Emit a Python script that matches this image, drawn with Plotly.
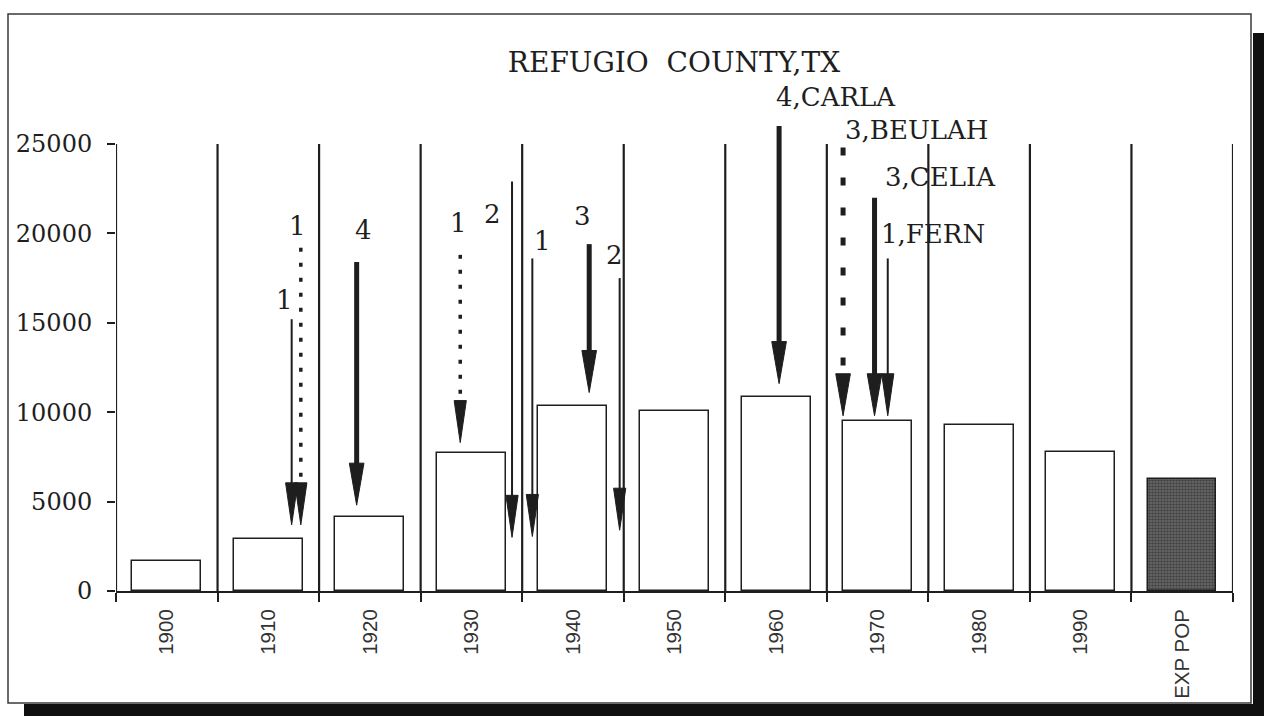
import plotly.graph_objects as go

# ---------------- data ----------------
categories = ["1900", "1910", "1920", "1930", "1940", "1950",
              "1960", "1970", "1980", "1990", "EXP POP"]
population = [1680, 2900, 4120, 7700, 10350, 10050, 10850, 9500, 9300, 7800, 6250]

# hurricane arrows (x in years on the decade axis, y in persons)
arrow_x = [1912.3, 1913.2, 1918.7, 1928.9, 1934.0, 1936.0, 1941.6, 1944.6,
           1960.3, 1966.6, 1969.7, 1971.0]
arrow_top = [15200, 19200, 18400, 18800, 22900, 18600, 19400, 17500,
             26000, 24800, 22000, 18600]
arrow_tip = [3700, 3700, 4800, 8300, 3000, 3050, 11100, 3400,
             11600, 9800, 9800, 9800]
arrow_style = ["thin", "dot", "thick", "dot", "thin", "thin", "thick", "thin",
               "thick", "dash", "thick", "thin"]

label_text = ["1", "1", "4", "1", "2", "1", "3", "2",
              "4,CARLA", "3,BEULAH", "3,CELIA", "1,FERN"]
label_x = [1911.6, 1912.9, 1919.4, 1928.7, 1932.1, 1937.0, 1940.9, 1944.1,
           1965.9, 1973.9, 1976.2, 1975.5]
label_y = [16300, 20400, 20200, 20600, 21100, 19600, 21000, 18800,
           27650, 25800, 23170, 19970]

y_ticks = [0, 5000, 10000, 15000, 20000, 25000]
y_tick_text = ["0", "5000", "10000", "15000", "20000", "25000"]
title_text = "REFUGIO  COUNTY,TX"

# ---------------- geometry / style ----------------
W, H = 1264, 716
ML, MR, MT, MB = 116, 31, 20, 125
PW, PH = W - ML - MR, H - MT - MB
Y_TOP = 25000
Y_MAX = Y_TOP * PH / 447.0

positions = [1900 + 10 * i for i in range(len(categories))]
dividers = [1895 + 10 * i for i in range(len(categories) + 1)]

INK = "#1e1e1e"
SERIF = "DejaVu Serif, Liberation Serif, serif"
SANS = "Liberation Sans, Arial, sans-serif"

line_styles = {
    "thin": dict(width=2, dash="solid"),
    "thick": dict(width=5, dash="solid"),
    "dot": dict(width=3.5, dash="4px,11px"),
    "dash": dict(width=5, dash="8px,22px"),
}
head_half = {"thin": 0.6, "thick": 0.72, "dot": 0.6, "dash": 0.72}
HEAD_LEN = 2350

fig = go.Figure()

# dividers + y-axis line (0 .. 25000)
dx, dy = [], []
for d in dividers:
    dx += [d, d, None]
    dy += [0, Y_TOP, None]
fig.add_trace(go.Scatter(x=dx, y=dy, mode="lines",
                         line=dict(color=INK, width=2.2),
                         hoverinfo="skip", showlegend=False))

# population bars
fig.add_trace(go.Bar(x=positions[:-1], y=population[:-1], width=6.8,
                     marker=dict(color="white", line=dict(color=INK, width=1.5)),
                     showlegend=False))
fig.add_trace(go.Bar(x=positions[-1:], y=population[-1:], width=6.7,
                     marker=dict(color="#505050",
                                 line=dict(color=INK, width=1.5),
                                 pattern=dict(shape=".", fgcolor="#1c1c1c",
                                              bgcolor="#6c6c6c", size=3,
                                              solidity=0.55)),
                     showlegend=False))

# arrows
for x, top, tip, st in zip(arrow_x, arrow_top, arrow_tip, arrow_style):
    fig.add_trace(go.Scatter(x=[x, x], y=[top, tip + HEAD_LEN - 200], mode="lines",
                             line=dict(color=INK, **line_styles[st]),
                             hoverinfo="skip", showlegend=False))
    hw = head_half[st]
    fig.add_trace(go.Scatter(x=[x - hw, x + hw, x, x - hw],
                             y=[tip + HEAD_LEN, tip + HEAD_LEN, tip, tip + HEAD_LEN],
                             mode="lines", fill="toself", fillcolor=INK,
                             line=dict(color=INK, width=1),
                             hoverinfo="skip", showlegend=False))

# arrow labels
for t, x, y in zip(label_text, label_x, label_y):
    fig.add_annotation(x=x, y=y, text=t, showarrow=False,
                       xanchor="center", yanchor="middle",
                       font=dict(family=SERIF, size=26, color=INK))

# page frame (pixel positions converted to paper coordinates)
def px(v):
    return (v - ML) / PW

def py(v):
    return (H - MB - v) / PH

fig.add_shape(type="rect", xref="paper", yref="paper",
              x0=px(8), x1=px(1251), y0=py(703), y1=py(14),
              line=dict(color="#3a3a3a", width=1.5), fillcolor="rgba(0,0,0,0)")
fig.add_shape(type="rect", xref="paper", yref="paper",
              x0=px(1253), x1=px(1270), y0=py(720), y1=py(33),
              line=dict(width=0), fillcolor="#101010")
fig.add_shape(type="rect", xref="paper", yref="paper",
              x0=px(24), x1=px(1270), y0=py(720), y1=py(704),
              line=dict(width=0), fillcolor="#101010")

fig.update_layout(
    width=W, height=H, autosize=False,
    margin=dict(l=ML, r=MR, t=MT, b=MB, pad=0, autoexpand=False),
    paper_bgcolor="white", plot_bgcolor="white",
    bargap=0,
    title=dict(text=title_text, x=674 / W, xanchor="center",
               y=1 - 62 / H, yanchor="middle",
               font=dict(family=SERIF, size=28, color=INK)),
    xaxis=dict(range=[1895, 2005], tickmode="array", tickvals=positions,
               ticktext=categories, tickangle=-90, ticks="",
               showline=True, linecolor=INK, linewidth=2,
               showgrid=False, zeroline=False, automargin=False,
               tickfont=dict(family=SANS, size=20.5, color="#333333"),
               ticklabelstandoff=8,
               minor=dict(tickmode="array", tickvals=dividers, ticks="outside",
                          ticklen=9, tickwidth=2, tickcolor=INK, showgrid=False)),
    yaxis=dict(range=[0, Y_MAX], tickmode="array", tickvals=y_ticks,
               ticktext=y_tick_text, automargin=False,
               ticks="outside", ticklen=8, tickwidth=1.5, tickcolor=INK,
               showline=False, showgrid=False, zeroline=False,
               tickfont=dict(family=SERIF, size=24, color=INK),
               ticklabelstandoff=10),
)

fig.write_html("out.html", config={"displayModeBar": False},
               post_script="document.body.style.margin='0';document.body.style.overflow='hidden';")
